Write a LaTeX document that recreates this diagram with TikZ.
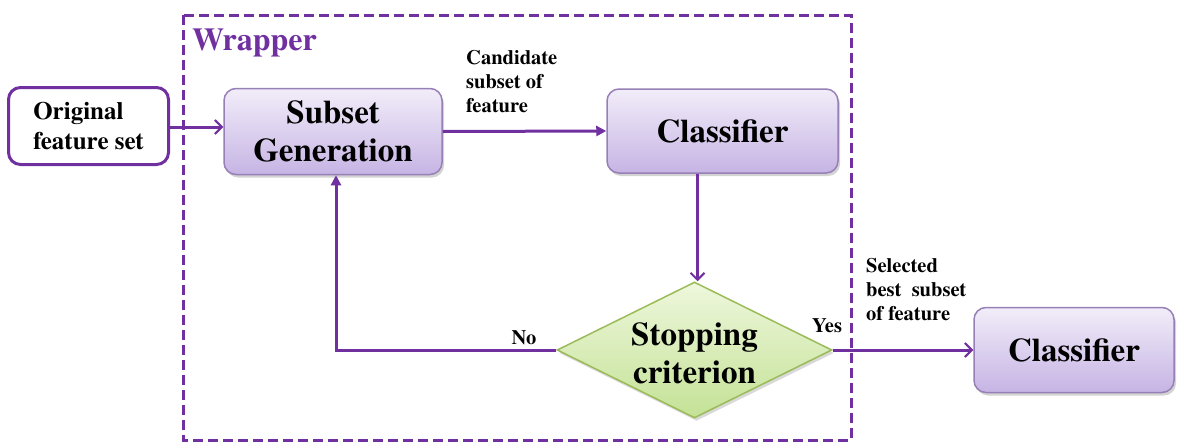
\documentclass[tikz,border=0pt]{standalone}
\usepackage{fontspec}
\setmainfont{texgyretermes}[Extension=.otf, UprightFont=*-regular, BoldFont=*-bold, ItalicFont=*-italic, BoldItalicFont=*-bolditalic]
\usetikzlibrary{arrows.meta,shapes.geometric,shadows}
\definecolor{wpurple}{RGB}{112,48,160}
\definecolor{boxedge}{RGB}{150,128,182}
\definecolor{boxtop}{RGB}{242,237,249}
\definecolor{boxbot}{RGB}{198,180,228}
\definecolor{dtop}{RGB}{238,247,220}
\definecolor{dbot}{RGB}{196,226,150}
\definecolor{dedge}{RGB}{155,187,89}
\tikzset{
  procbox/.style={rectangle, rounded corners=12pt, draw=boxedge, line width=1.5pt,
    top color=boxtop, bottom color=boxbot, align=center, inner sep=0pt,
    font=\bfseries\fontsize{33}{38}\selectfont,
    drop shadow={opacity=0.35, shadow xshift=2pt, shadow yshift=-3pt}},
  inbox/.style={rectangle, rounded corners=12pt, draw=wpurple, line width=3pt, fill=white,
    align=left, inner sep=0pt, font=\bfseries\fontsize{25}{30}\selectfont},
  decision/.style={diamond, draw=dedge, line width=1.5pt, top color=dtop, bottom color=dbot,
    inner sep=0pt, drop shadow={opacity=0.3, shadow xshift=2pt, shadow yshift=-3pt}},
  lbl/.style={font=\bfseries\fontsize{20.5}{24}\selectfont, align=left, inner sep=0pt},
  conn/.style={draw=wpurple, line width=3pt},
  openarr/.style={conn, -{Straight Barb[length=7pt,width=14pt,line width=2pt]}},
  fillarr/.style={conn, -{Triangle[length=10pt,width=10pt]}},
}
\begin{document}
\begin{tikzpicture}[x=1pt,y=-1pt]
\useasboundingbox (0,0) rectangle (1183,442);
% wrapper
\draw[wpurple, line width=3pt, dash pattern=on 10pt off 5pt] (183,15) rectangle (851,440);
\node[anchor=west, text=wpurple, font=\bfseries\fontsize{32}{38}\selectfont, inner sep=0pt] (wrap) at (192,43) {Wrapper};
% nodes
\node[inbox, minimum width=160pt, minimum height=77pt] (orig) at (88.5,126) {Original\\feature set};
\node[procbox, minimum width=218pt, minimum height=86pt] (subset) at (333,131.5) {Subset\\Generation};
\node[procbox, minimum width=231pt, minimum height=84pt] (cls1) at (722.5,131) {Classifier};
\node[decision, minimum width=275pt, minimum height=136pt] (dec) at (694.5,350) {};
\node[font=\bfseries\fontsize{33}{38}\selectfont, align=center, inner sep=0pt] (dectext) at (694.5,353) {Stopping\\criterion};
\node[procbox, minimum width=200pt, minimum height=85pt] (cls2) at (1074,350) {Classifier};
% labels
\node[lbl, anchor=north west] (cand) at (466,50) {Candidate\\subset of\\feature};
\node[lbl, anchor=center] (no) at (524,338) {No};
\node[lbl, anchor=center] (yes) at (827,326) {Yes};
\node[lbl, anchor=north west] (sel) at (866,258) {Selected\\best~ subset\\of feature};
% connectors
\draw[openarr] (orig.east |- 0,127) -- (subset.west |- 0,127);
\draw[fillarr] (subset.east) -- (cls1.west);
\draw[openarr] (cls1.south -| dec.north) ++(3pt,0) -- ([xshift=3pt]dec.north);
\draw[fillarr] (dec.west) -| ([xshift=3pt]subset.south);
\draw[openarr] (dec.east) -- (cls2.west);
\end{tikzpicture}
\end{document}
